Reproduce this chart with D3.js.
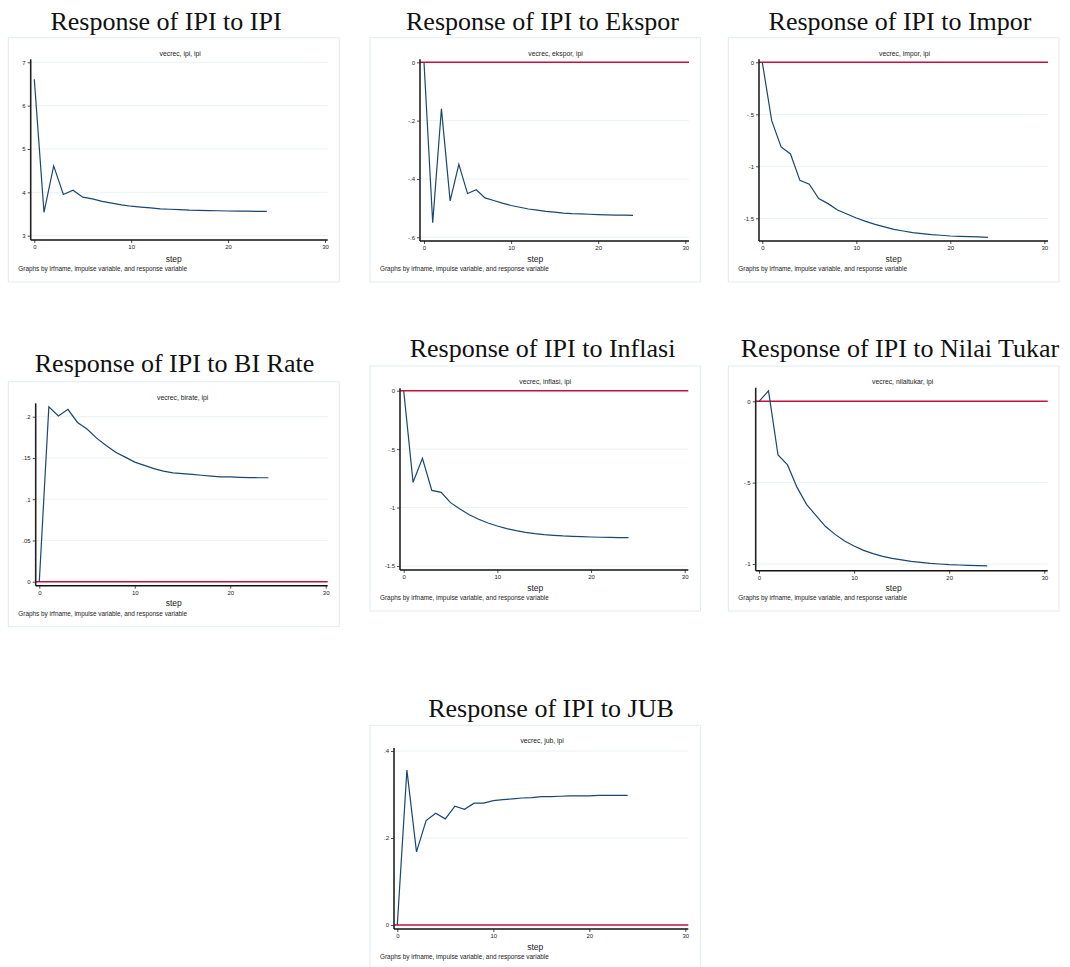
<!DOCTYPE html>
<html>
<head>
<meta charset="utf-8">
<script src="https://cdn.jsdelivr.net/npm/d3@7"></script>
<style>
  body { margin: 0; background: #fff; }
  svg text { font-family: "Liberation Sans", Arial, sans-serif; fill: #222; }
  .title { font-family: "Liberation Serif", "Times New Roman", serif !important; font-size: 26px; fill: #111 !important; }
</style>
</head>
<body>
<svg id="chart" width="1070" height="967"></svg>
<script>
// impulse response steps (Stata irf, vecrec)
const steps = [0, 1, 2, 3, 4, 5, 6, 7, 8, 9, 10, 11, 12, 13, 14, 15, 16, 17, 18, 19, 20, 21, 22, 23, 24];
const xTicks = [0, 10, 20, 30];

const respIPI = [6.61, 3.54, 4.61, 3.95, 4.05, 3.89, 3.85, 3.79, 3.75, 3.71, 3.68, 3.66, 3.64, 3.62, 3.61, 3.60, 3.59, 3.585, 3.58, 3.575, 3.57, 3.567, 3.565, 3.562, 3.56];
const respEkspor = [0, -0.55, -0.159, -0.475, -0.35, -0.45, -0.437, -0.465, -0.474, -0.483, -0.491, -0.497, -0.503, -0.507, -0.511, -0.514, -0.517, -0.519, -0.520, -0.521, -0.522, -0.523, -0.524, -0.524, -0.525];
const respImpor = [0, -0.561, -0.814, -0.881, -1.135, -1.173, -1.311, -1.359, -1.42, -1.458, -1.497, -1.529, -1.558, -1.583, -1.606, -1.622, -1.638, -1.647, -1.657, -1.663, -1.67, -1.673, -1.676, -1.679, -1.683];
const respBIRate = [0, 0.212, 0.201, 0.209, 0.193, 0.185, 0.174, 0.165, 0.157, 0.151, 0.145, 0.141, 0.137, 0.134, 0.132, 0.131, 0.130, 0.129, 0.128, 0.127, 0.127, 0.1265, 0.1262, 0.126, 0.126];
const respInflasi = [0, -0.784, -0.579, -0.853, -0.87, -0.958, -1.012, -1.061, -1.1, -1.132, -1.158, -1.18, -1.198, -1.212, -1.223, -1.232, -1.238, -1.243, -1.246, -1.249, -1.252, -1.254, -1.255, -1.257, -1.258];
const respNilaiTukar = [0, 0.064, -0.33, -0.391, -0.529, -0.633, -0.703, -0.770, -0.818, -0.859, -0.889, -0.916, -0.936, -0.953, -0.965, -0.975, -0.984, -0.99, -0.996, -1.0, -1.004, -1.006, -1.008, -1.01, -1.012];
const respJUB = [0, 0.356, 0.168, 0.24, 0.257, 0.244, 0.273, 0.266, 0.28, 0.28, 0.286, 0.288, 0.29, 0.292, 0.293, 0.295, 0.295, 0.296, 0.297, 0.297, 0.297, 0.298, 0.298, 0.298, 0.298];

const ticksIPI = [3, 4, 5, 6, 7];
const ticksEkspor = [0, -0.2, -0.4, -0.6];
const ticksImpor = [0, -0.5, -1, -1.5];
const ticksBIRate = [0, 0.05, 0.1, 0.15, 0.2];
const ticksInflasi = [0, -0.5, -1, -1.5];
const ticksNilaiTukar = [0, -0.5, -1];
const ticksJUB = [0, 0.2, 0.4];

const titles = ["Response of IPI to IPI", "Response of IPI to Ekspor", "Response of IPI to Impor",
    "Response of IPI to BI Rate", "Response of IPI to Inflasi", "Response of IPI to Nilai Tukar",
    "Response of IPI to JUB"];
const subtitles = ["vecrec, ipi, ipi", "vecrec, ekspor, ipi", "vecrec, impor, ipi", "vecrec, birate, ipi",
    "vecrec, inflasi, ipi", "vecrec, nilaitukar, ipi", "vecrec, jub, ipi"];
const noteText = "Graphs by irfname, impulse variable, and response variable";

// layout of each panel: frame box, title anchor, plot box, and two y reference points
const panels = [
    {values: respIPI, ticks: ticksIPI, frame: [8.3, 37.7, 331, 244.3], title: [166, 30],
     L: 30.7, R: 327.7, T: 59.3, B: 240, x0: 34.3, x30: 325, yA: [7, 62.3], yB: [3, 235.7]},
    {values: respEkspor, ticks: ticksEkspor, frame: [370, 37.7, 330.5, 244.3], title: [542.5, 30],
     L: 420, R: 689, T: 59.3, B: 241, x0: 424, x30: 685.3, yA: [0, 62.3], yB: [-0.6, 237.3]},
    {values: respImpor, ticks: ticksImpor, frame: [728.3, 37.7, 330.7, 244.3], title: [900, 30],
     L: 759, R: 1048, T: 59.3, B: 241, x0: 762.3, x30: 1044.3, yA: [0, 62.3], yB: [-1.5, 218.3]},
    {values: respBIRate, ticks: ticksBIRate, frame: [8.3, 381.7, 331, 245], title: [174.5, 372],
     L: 35.7, R: 327.7, T: 403.3, B: 585.7, x0: 39.3, x30: 325.7, yA: [0.2, 416.7], yB: [0, 581.7]},
    {values: respInflasi, ticks: ticksInflasi, frame: [370, 366, 330.5, 245], title: [542.5, 357],
     L: 400, R: 688.3, T: 388.3, B: 570, x0: 403.7, x30: 684.7, yA: [0, 390.7], yB: [-1.5, 566]},
    {values: respNilaiTukar, ticks: ticksNilaiTukar, frame: [728.3, 366, 330.7, 245], title: [900, 357],
     L: 755.7, R: 1047.7, T: 387.7, B: 570.7, x0: 759, x30: 1044.3, yA: [0, 401.3], yB: [-1, 564]},
    {values: respJUB, ticks: ticksJUB, frame: [370, 725.3, 330.5, 245], title: [551, 717],
     L: 394, R: 688.3, T: 748, B: 929, x0: 397.3, x30: 685.3, yA: [0.4, 751], yB: [0, 925]}
];

// stata style labels: .2 instead of 0.2
const fmt = v => String(+v.toFixed(3)).replace(/^(-?)0\./, "$1.");

const svg = d3.select("#chart");

panels.forEach(function (p, i) {
    let g = svg.append("g");
    let [fx, fy, fw, fh] = p.frame;

    g.append("rect")
        .attr("x", fx).attr("y", fy)
        .attr("width", fw).attr("height", fh)
        .attr("fill", "#fff")
        .attr("stroke", "#e2ebed")
        .attr("stroke-width", 1);

    g.append("text")
        .attr("class", "title")
        .attr("x", p.title[0]).attr("y", p.title[1])
        .attr("text-anchor", "middle")
        .text(titles[i]);

    let x = d3.scaleLinear().domain([0, 30]).range([p.x0, p.x30]);
    let y = d3.scaleLinear().domain([p.yA[0], p.yB[0]]).range([p.yA[1], p.yB[1]]);

    // gridlines
    g.selectAll("line.grid")
        .data(p.ticks)
        .enter().append("line")
        .attr("class", "grid")
        .attr("x1", p.L).attr("x2", p.R)
        .attr("y1", d => y(d)).attr("y2", d => y(d))
        .attr("stroke", "#eaf2f3")
        .attr("stroke-width", 1);

    // zero reference line, only if 0 is inside the plot
    let yMin = Math.min(y.invert(p.B), y.invert(p.T)), yMax = Math.max(y.invert(p.B), y.invert(p.T));
    if (0 >= yMin && 0 <= yMax) {
        g.append("line")
            .attr("x1", p.L).attr("x2", p.R)
            .attr("y1", y(0)).attr("y2", y(0))
            .attr("stroke", "#c8103e")
            .attr("stroke-width", 1.4);
    }

    let line = d3.line()
        .x((d, k) => x(steps[k]))
        .y(d => y(d));

    g.append("path")
        .datum(p.values)
        .attr("d", line)
        .attr("fill", "none")
        .attr("stroke", "#1a476f")
        .attr("stroke-width", 1.2);

    // axes
    let yAxis = d3.axisLeft(y).tickValues(p.ticks).tickFormat(fmt).tickSize(3).tickPadding(2);
    let ya = g.append("g").attr("transform", `translate(${p.L},0)`).call(yAxis);
    let xAxis = d3.axisBottom(x).tickValues(xTicks).tickSize(3).tickPadding(2);
    let xa = g.append("g").attr("transform", `translate(0,${p.B})`).call(xAxis);
    [ya, xa].forEach(a => {
        a.select(".domain").remove();
        a.selectAll("line").attr("stroke", "#222").attr("stroke-width", 0.8);
        a.selectAll("text").attr("font-size", "6px").attr("fill", "#222");
    });

    g.append("line")
        .attr("x1", p.L).attr("x2", p.L)
        .attr("y1", p.T).attr("y2", p.B)
        .attr("stroke", "#222").attr("stroke-width", 1.6);
    g.append("line")
        .attr("x1", p.L).attr("x2", p.R)
        .attr("y1", p.B).attr("y2", p.B)
        .attr("stroke", "#111").attr("stroke-width", 1.4);

    g.append("text")
        .attr("x", (p.L + p.R) / 2 + 1).attr("y", fy + 18)
        .attr("text-anchor", "middle")
        .attr("font-size", "6.8px")
        .text(subtitles[i]);

    g.append("text")
        .attr("x", fx + fw / 2).attr("y", fy + fh - 20.5)
        .attr("text-anchor", "middle")
        .attr("font-size", "8.5px")
        .text("step");

    g.append("text")
        .attr("x", fx + 10).attr("y", fy + fh - 11)
        .attr("font-size", "6.4px")
        .text(noteText);
});
</script>
</body>
</html>
